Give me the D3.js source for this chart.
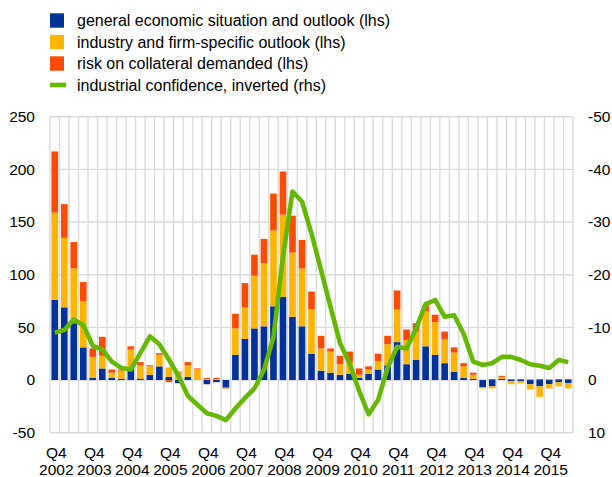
<!DOCTYPE html>
<html><head><meta charset="utf-8">
<script src="https://cdn.jsdelivr.net/npm/d3@7"></script>
<style>
html,body{margin:0;padding:0;background:#fff;}
svg{display:block;font-family:Arial,"Liberation Sans",sans-serif;}
</style></head>
<body>
<svg id="chart" width="612" height="477"></svg>
<script>
const quarters = ["2002Q4",
 "2003Q1","2003Q2","2003Q3","2003Q4","2004Q1","2004Q2","2004Q3","2004Q4",
 "2005Q1","2005Q2","2005Q3","2005Q4","2006Q1","2006Q2","2006Q3","2006Q4",
 "2007Q1","2007Q2","2007Q3","2007Q4","2008Q1","2008Q2","2008Q3","2008Q4",
 "2009Q1","2009Q2","2009Q3","2009Q4","2010Q1","2010Q2","2010Q3","2010Q4",
 "2011Q1","2011Q2","2011Q3","2011Q4","2012Q1","2012Q2","2012Q3","2012Q4",
 "2013Q1","2013Q2","2013Q3","2013Q4","2014Q1","2014Q2","2014Q3","2014Q4",
 "2015Q1","2015Q2","2015Q3","2015Q4","2016Q1","2016Q2"];

const general = [76,69,54,31,2,11,2,1,12,1,5,13,3,-3,3,0,-4,-2,-7,24,39,49,51,70,79,60,51,25,9,7,5,6,2,6,10,14,36,15,19,32,24,16,8,2,1,-7,-6,1,-1,-1,-4,-6,-4,-2,-3];
const industry = [83,66,52,44,20,12,5,8,17,13,8,11,9,7,11,10,1,1,0,25,30,50,60,72,78,61,55,42,21,20,10,11,3,4,8,20,31,23,27,33,31,23,18,11,4,-1,-2,2,-3,-2,-5,-10,-4,-4,-5];
const collateral = [58,32,25,18,8,18,3,1,3,3,1,1.5,-2,1,3,1,1,1,-1,14,23,20,23,35,41,35,27,17,12,3,8,10,6,3,7,8,18,10,8,6,7,7,5,3,2,0,1,1,1,1,0.5,1,0.5,1,1];
const confidence = [-9.0,-9.5,-11.5,-10.4,-6.5,-5.8,-3.5,-2.3,-2.0,-5.1,-8.3,-6.8,-3.9,-0.8,3.0,4.7,6.3,6.8,7.6,5.4,3.4,1.6,-1.9,-8.2,-23.4,-35.8,-33.9,-27.8,-20.9,-13.9,-7.0,-3.2,2.0,6.5,3.8,-2.3,-6.3,-6.0,-9.8,-14.4,-15.2,-12.0,-12.3,-8.8,-3.5,-2.85,-3.2,-4.4,-4.4,-3.8,-3.0,-2.7,-2.3,-3.8,-3.4];

const leftTicks = [-50,0,50,100,150,200,250];
const rightTicks = [-50,-40,-30,-20,-10,0,10];
const seriesNames = ["general economic situation and outlook (lhs)",
  "industry and firm-specific outlook (lhs)",
  "risk on collateral demanded (lhs)",
  "industrial confidence, inverted (rhs)"];
const colors = ["#003299","#ffb400","#ff4b00","#65b800"];

(function(){
const svg = d3.select("#chart");
const pL = 50, pR = 573, pT = 116.7, pB = 432.7;

const x = d3.scaleBand().domain(quarters).range([pL, pR]).paddingInner(0.3).paddingOuter(0.15);
const xStep = x.step();
const yL = d3.scaleLinear().domain([-50,250]).range([pB, pT]);
const yR = d3.scaleLinear().domain([10,-50]).range([pB, pT]);

const gridColor = "#dadada";
const bounds = quarters.map(q => x(q) - (xStep - x.bandwidth())/2);
bounds.push(pR);
svg.append("g").selectAll("line").data(bounds).join("line")
  .attr("x1", d => d).attr("x2", d => d)
  .attr("y1", pT).attr("y2", pB)
  .attr("stroke", gridColor).attr("stroke-width", 1.4);
svg.append("g").selectAll("line").data(leftTicks).join("line")
  .attr("x1", pL).attr("x2", pR)
  .attr("y1", d => yL(d)).attr("y2", d => yL(d))
  .attr("stroke", gridColor).attr("stroke-width", 1.4);

const table = quarters.map((q,i) => ({q, general: general[i], industry: industry[i], collateral: collateral[i]}));
const stack = d3.stack().keys(["general","industry","collateral"]).offset(d3.stackOffsetDiverging);
const layers = stack(table);
svg.append("g").selectAll("g").data(layers).join("g")
  .attr("fill", (d,i) => colors[i])
  .selectAll("rect").data(d => d).join("rect")
  .attr("x", d => x(d.data.q))
  .attr("width", x.bandwidth())
  .attr("y", d => yL(Math.max(d[0], d[1])))
  .attr("height", d => Math.abs(yL(d[0]) - yL(d[1])));

const line = d3.line().x((d,i) => x(quarters[i]) + x.bandwidth()/2).y(d => yR(d));
svg.append("path").datum(confidence)
  .attr("d", line).attr("fill","none")
  .attr("stroke", colors[3]).attr("stroke-width", 4.6)
  .attr("stroke-linejoin","round");

const fs = 15.5;
svg.append("g").selectAll("text").data(leftTicks).join("text")
  .attr("x", 35).attr("y", d => yL(d)).attr("dy","0.35em")
  .attr("text-anchor","end").attr("font-size", fs).attr("fill","#000")
  .text(d => d);
svg.append("g").selectAll("text").data(rightTicks).join("text")
  .attr("x", 588).attr("y", d => yR(d)).attr("dy","0.35em")
  .attr("text-anchor","start").attr("font-size", fs).attr("fill","#000")
  .text(d => d);

const q4 = quarters.filter(q => q.endsWith("Q4"));
const xl = svg.append("g").selectAll("g").data(q4).join("g")
  .attr("transform", d => `translate(${x(d) + x.bandwidth()/2 + 1.5},0)`);
xl.append("text").attr("y", 457.5).attr("text-anchor","middle").attr("font-size", fs).text("Q4");
xl.append("text").attr("y", 474.5).attr("text-anchor","middle").attr("font-size", fs).text(d => d.slice(0,4));

const lg = svg.append("g").selectAll("g").data(seriesNames).join("g")
  .attr("transform", (d,i) => `translate(50,${20.5 + i*21.5})`);
lg.each(function(d,i){
  const g = d3.select(this);
  if (i < 3) g.append("rect").attr("x",0).attr("y",-7.2).attr("width",14).attr("height",14.4).attr("fill",colors[i]);
  else g.append("line").attr("x1",0).attr("x2",16).attr("y1",0).attr("y2",0).attr("stroke",colors[i]).attr("stroke-width",4.6);
});
lg.append("text").attr("x",27).attr("y",0).attr("dy","0.35em").attr("font-size", 16).text(d => d);
})();
</script>
</body></html>
